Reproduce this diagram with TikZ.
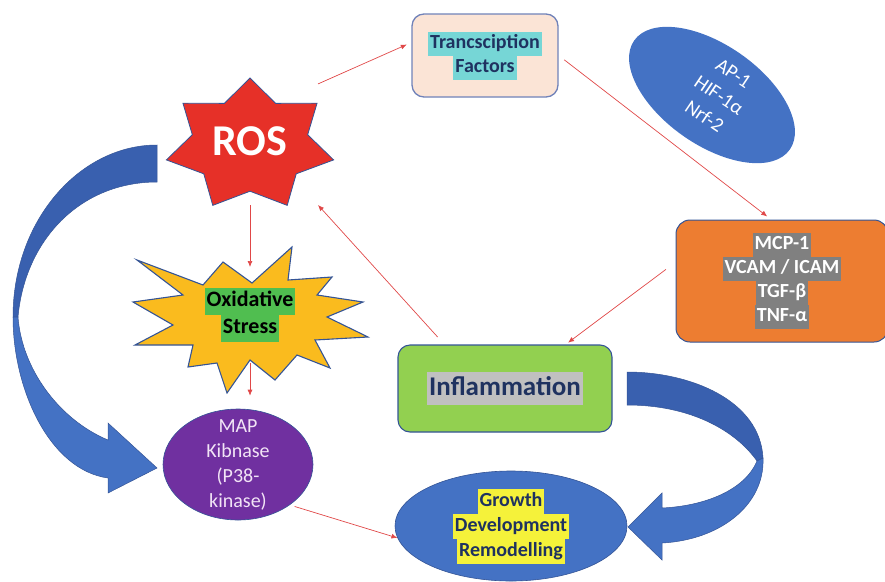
\documentclass[tikz,border=0pt]{standalone}
\usepackage{fontspec}
\setmainfont{Carlito}
\usetikzlibrary{shapes.geometric,arrows.meta}

\definecolor{arrowred}{RGB}{224,72,72}
\definecolor{bandblue}{RGB}{68,114,196}
\definecolor{bandback}{RGB}{57,96,175}
\definecolor{edgeblue}{RGB}{52,84,150}
\definecolor{navytext}{RGB}{31,50,96}
\definecolor{tffill}{RGB}{251,228,214}
\definecolor{tfborder}{RGB}{112,130,185}
\definecolor{tfhl}{RGB}{118,214,214}
\definecolor{rosred}{RGB}{230,48,40}
\definecolor{burstyellow}{RGB}{250,187,30}
\definecolor{oxgreen}{RGB}{80,190,80}
\definecolor{mappurple}{RGB}{112,48,160}
\definecolor{maptext}{RGB}{242,228,246}
\definecolor{inflgreen}{RGB}{146,208,80}
\definecolor{inflhl}{RGB}{192,192,192}
\definecolor{mcporange}{RGB}{237,125,49}
\definecolor{mcphl}{RGB}{128,128,128}
\definecolor{growthhl}{RGB}{245,242,58}

\newcommand{\hlbox}[2]{{\setlength{\fboxsep}{0pt}\colorbox{#1}{\strut\hspace{2pt}#2\hspace{2pt}}}}

\tikzset{
  redarrow/.style={draw=arrowred, line width=0.7pt, -{Latex[length=6pt,width=5pt]}},
  bandfront/.style={fill=bandblue, draw=edgeblue, line width=0.5pt},
  bandrear/.style={fill=bandback, draw=edgeblue, line width=0.5pt},
  roundbox/.style={rounded corners=12pt, line width=1.3pt, align=center},
  hidden/.style={inner sep=0pt, outer sep=0pt},
}

\begin{document}
\begin{tikzpicture}[x=1pt,y=-1pt]
\useasboundingbox (0,0) rectangle (885,581);

% big curved arrows
\path[bandrear] (157,145) .. controls (80,145) and (13,220) .. (13,317) -- (18,317) .. controls (25,240) and (80,182) .. (157,182) -- cycle;
\path[bandfront] (13,317) .. controls (13,390) and (50,470) .. (108,478) -- (108,493) -- (157,468) -- (108,423) -- (108,440) .. controls (60,420) and (22,370) .. (18,317) -- cycle;
\path[bandrear] (627,372) .. controls (690,372) and (760,400) .. (763,458) -- (757,461) .. controls (735,430) and (690,405) .. (627,405) -- cycle;
\path[bandfront] (763,458) .. controls (765,505) and (720,540) .. (662,543) -- (662,560) -- (628,527) -- (662,493) -- (662,508) .. controls (705,506) and (745,490) .. (757,461) -- cycle;

% ROS
\node[star, star points=7, star point ratio=1.45, minimum size=134pt, xscale=1.28, transform shape, hidden, fill=rosred, draw=edgeblue, line width=0.8pt] (rosstar) at (250,145) {};
\node[hidden, minimum width=136pt, minimum height=128pt, text=white, font=\fontsize{44}{44}\selectfont\bfseries] (ros) at (250,141) {ROS};

% oxidative stress burst
\path[fill=burstyellow, draw=edgeblue, line width=1.1pt, line join=miter]
  (137,260) -- (203,285) -- (223,262) -- (252,283) -- (292,247) -- (288,280)
  -- (332,277) -- (317,295) -- (363,302) -- (327,317) -- (368,337) -- (315,340)
  -- (330,368) -- (297,355) -- (275,380) -- (250,360) -- (227,393) -- (217,363)
  -- (188,367) -- (193,345) -- (135,345) -- (173,325) -- (133,302) -- (183,295) -- cycle;
\node[hidden, minimum width=150pt, minimum height=96pt, align=center, font=\fontsize{22}{27}\selectfont\bfseries] (ox) at (250,315)
  {\hlbox{oxgreen}{Oxidative}\\\hlbox{oxgreen}{Stress}};

% MAP kinase
\node[ellipse, fill=mappurple, draw=edgeblue, line width=0.6pt, minimum width=150pt, minimum height=111pt] (map) at (238,464.5) {};
\node[text=maptext, align=center, font=\fontsize{20}{25}\selectfont] (maplabel) at (map.center) {MAP\\Kibnase\\(P38-\\kinase)};

% transcription factors
\node[roundbox, draw=tfborder, fill=tffill, minimum width=146pt, minimum height=83pt, text=navytext, font=\fontsize{20}{24}\selectfont\bfseries] (tf) at (485,55.5)
  {\hlbox{tfhl}{Trancsciption}\\\hlbox{tfhl}{Factors}};

% AP-1 ellipse
\node[ellipse, fill=bandblue, rotate=-35, minimum width=190pt, minimum height=100pt] (apell) at (712,95) {};
\node[rotate=-34, text=white, align=center, font=\fontsize{20}{26}\selectfont] (aplabel) at (719,95) {AP-1\\HIF-1α\\Nrf-2};

% MCP box
\node[roundbox, rounded corners=14pt, draw=edgeblue, line width=1pt, fill=mcporange, minimum width=212pt, minimum height=122pt, text=white, font=\fontsize{20}{24}\selectfont\bfseries] (mcp) at (782,281)
  {\hlbox{mcphl}{MCP-1}\\\hlbox{mcphl}{VCAM / ICAM}\\\hlbox{mcphl}{TGF-β}\\\hlbox{mcphl}{TNF-α}};

% inflammation
\node[roundbox, draw=edgeblue, line width=1.1pt, fill=inflgreen, minimum width=214pt, minimum height=87pt, text=navytext, font=\fontsize{27}{33}\selectfont\bfseries] (infl) at (505,388.5)
  {\hlbox{inflhl}{Inflammation}};

% growth
\node[ellipse, fill=bandblue, draw=edgeblue, line width=0.6pt, minimum width=232pt, minimum height=110pt] (growth) at (511,526) {};
\node[align=center, text=navytext, font=\fontsize{20}{25}\selectfont\bfseries] (growthlabel) at (growth.center)
  {\hlbox{growthhl}{Growth}\\\hlbox{growthhl}{Development}\\\hlbox{growthhl}{Remodelling}};

% thin red arrows
\draw[redarrow, shorten >=5pt] (ros.40) -- (tf.170);
\draw[redarrow, shorten <=7pt, shorten >=5pt] (tf.east) -- (mcp.100);
\draw[redarrow, shorten <=12pt, shorten >=3pt] (mcp.170) -- (infl.36);
\draw[redarrow, shorten <=10pt] (infl.144) -- (ros.south east);
\draw[redarrow] (ros.south) -- (ox.north);
\draw[redarrow, shorten >=13pt] (ox.south) -- (ox.south |- map.north);
\draw[redarrow, shorten <=5pt] (map.-38) -- (growth.186);
\end{tikzpicture}
\end{document}
